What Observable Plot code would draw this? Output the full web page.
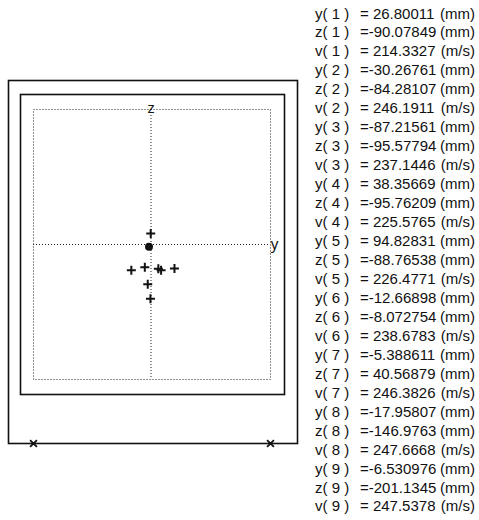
<!DOCTYPE html>
<html><head><meta charset="utf-8">
<script src="https://cdn.jsdelivr.net/npm/d3@7"></script>
<script src="https://cdn.jsdelivr.net/npm/@observablehq/plot@0.6"></script>
<style>
body{margin:0;background:#fff;}
#wrap{position:relative;width:479px;height:520px;overflow:hidden;}
#chart{position:absolute;left:0;top:0;}
#list{position:absolute;left:0;top:0;width:479px;height:520px;font-family:"Liberation Sans",Arial,sans-serif;font-size:15px;color:#111;}
.row{position:absolute;height:19px;line-height:19px;white-space:pre;}
</style></head><body>
<div id="wrap"><div id="chart"></div><div id="list"></div></div>
<script>
// data
const indices = [1, 2, 3, 4, 5, 6, 7, 8, 9];
const yVals = [26.80011, -30.26761, -87.21561, 38.35669, 94.82831, -12.66898, -5.388611, -17.95807, -6.530976];
const zVals = [-90.07849, -84.28107, -95.57794, -95.76209, -88.76538, -8.072754, 40.56879, -146.9763, -201.1345];
const vVals = [214.3327, 246.1911, 237.1446, 225.5765, 226.4771, 238.6783, 246.3826, 247.6668, 247.5378];
const hubIndex = 6;
const boundaryMarks = [-500, 500];
const quantityNames = ["y", "z", "v"];
const quantityUnits = ["mm", "mm", "m/s"];
const axisLabelH = "y";
const axisLabelV = "z";

const pts = indices.map((n, i) => ({n, y: yVals[i], z: zVals[i], v: vVals[i]}));
const ink = "#111";
const dotted = {stroke: "#222", strokeDasharray: "1 2"};

const chart = Plot.plot({
  width: 479, height: 520,
  marginLeft: 33, marginRight: 209, marginTop: 109, marginBottom: 141,
  x: {domain: [-500, 500], axis: null},
  y: {domain: [-500, 500], axis: null},
  marks: [
    Plot.frame({stroke: ink, strokeWidth: 1.6, insetLeft: -25, insetRight: -27, insetTop: -29, insetBottom: -64}),
    Plot.frame({stroke: ink, strokeWidth: 1.6, insetLeft: -13, insetRight: -14, insetTop: -15, insetBottom: -15}),
    Plot.frame(dotted),
    Plot.ruleX([0], {...dotted, dx: -1}),
    Plot.ruleY([0], dotted),
    Plot.text([axisLabelV], {x: 0, frameAnchor: "top", dy: -7, dx: -1, fontSize: 15, fill: ink, text: d => d}),
    Plot.text([axisLabelH], {y: 0, frameAnchor: "right", dx: 8, fontSize: 15, fill: ink, text: d => d}),
    Plot.dot(pts.filter(d => d.n !== hubIndex), {x: "y", y: "z", symbol: "plus", r: 3, stroke: ink, strokeWidth: 2}),
    Plot.dot(pts.filter(d => d.n === hubIndex), {x: "y", y: "z", r: 4, fill: ink, stroke: "none"}),
    Plot.dot(boundaryMarks, {x: d => d, frameAnchor: "bottom", dy: 64, symbol: "times", r: 3.2, stroke: ink, strokeWidth: 1.8})
  ]
});
document.getElementById("chart").appendChild(chart);

// value list
const list = document.getElementById("list");
let row = 0;
indices.forEach((n, i) => {
  const vals = [yVals[i], zVals[i], vVals[i]];
  quantityNames.forEach((q, k) => {
    const top = 13 + 18.96 * row - 9.5;
    const v = vals[k];
    const a = document.createElement("div");
    a.className = "row"; a.style.left = "315px"; a.style.top = top + "px";
    a.textContent = `${q}( ${n} )`;
    const b = document.createElement("div");
    b.className = "row"; b.style.left = "360px"; b.style.top = top + "px";
    b.textContent = "=" + (v < 0 ? "" : " ") + String(v);
    const c = document.createElement("div");
    c.className = "row"; c.style.right = "4px"; c.style.top = top + "px";
    c.textContent = `(${quantityUnits[k]})`;
    list.append(a, b, c);
    row++;
  });
});
</script>
</body></html>
